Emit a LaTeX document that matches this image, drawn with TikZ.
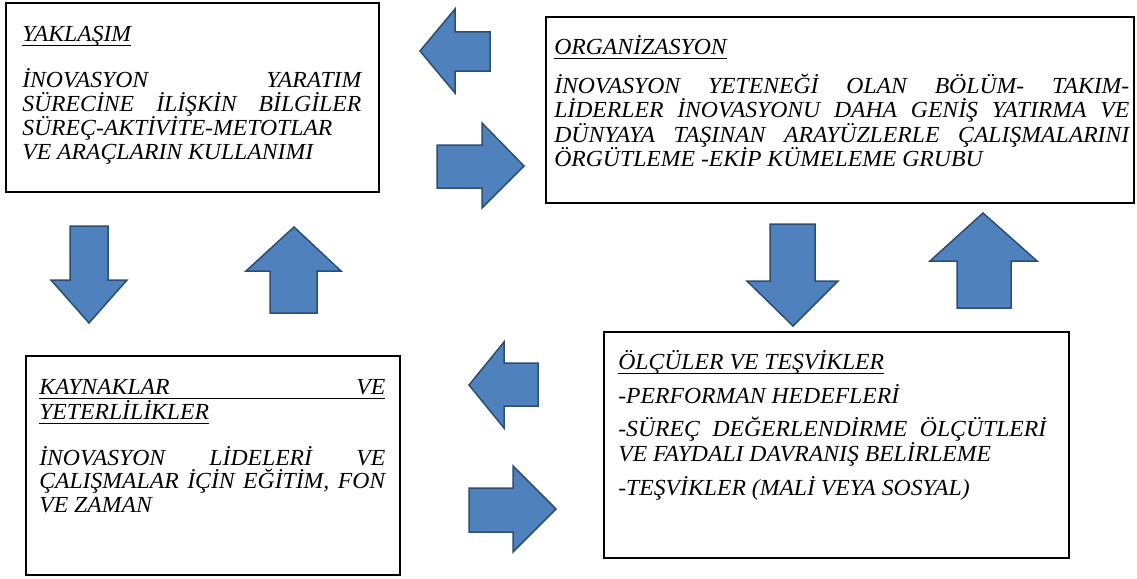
\documentclass[tikz,border=0pt]{standalone}
\usepackage{fontspec}
\setmainfont{Liberation Serif}[FakeStretch=1.03]
\setlength{\parindent}{0pt}
\setlength{\lineskiplimit}{-100pt}
\tolerance=10000
\hbadness=10000
\hyphenpenalty=10000
\exhyphenpenalty=10000
\newcommand{\ulword}[1]{\leavevmode\setbox0=\hbox{#1}\rlap{\rule[-5pt]{\wd0}{1.2pt}}\box0}
\definecolor{arrowfill}{HTML}{4F81BD}
\definecolor{arrowedge}{HTML}{2C4D75}
\tikzset{panel/.style = {shape = rectangle, draw, line width = 1.8pt, inner sep = 0pt}}
\tikzset{paneltext/.style = {anchor = base west, inner sep = 0pt, align = justify, font = \fontsize{23pt}{23.4pt}\selectfont\itshape}}
\tikzset{blockarrow/.style = {fill = arrowfill, draw = arrowedge, line width = 1.5pt, line join = miter}}

\begin{document}
\begin{tikzpicture}[x=1pt, y=-1pt]
	\useasboundingbox (0,0) rectangle (1137,578);

	\node[panel, minimum width = 373, minimum height = 189] (yaklasim) at (192.5, 97.5) {};
	\node[panel, minimum width = 588, minimum height = 186] (organizasyon) at (840, 110) {};
	\node[panel, minimum width = 374, minimum height = 219] (kaynak) at (213, 465.5) {};
	\node[panel, minimum width = 465, minimum height = 226] (olcu) at (836.5, 445) {};

	\node[paneltext, text width = 339] (yaklasimtext) at ([shift={(17,39)}]yaklasim.north west)
		{\ulword{YAKLAŞIM}\par\vspace{21.6pt}
		İNOVASYON YARATIM\linebreak SÜRECİNE İLİŞKİN BİLGİLER\linebreak
		SÜREÇ-AKTİVİTE-METOTLAR\linebreak VE ARAÇLARIN KULLANIMI\par};
	\node[paneltext, text width = 575] (organizasyontext) at ([shift={(9,38)}]organizasyon.north west)
		{\ulword{ORGANİZASYON}\par\vspace{14.3pt}
		İNOVASYON YETENEĞİ OLAN BÖLÜM- TAKIM-\linebreak LİDERLER İNOVASYONU DAHA GENİŞ YATIRMA VE\linebreak
		DÜNYAYA TAŞINAN ARAYÜZLERLE ÇALIŞMALARINI\linebreak ÖRGÜTLEME -EKİP KÜMELEME GRUBU\par};
	\node[paneltext, text width = 346] (kaynaktext) at ([shift={(14,39)}]kaynak.north west)
		{\ulword{\hbox to \hsize{KAYNAKLAR\hfill VE}}\par \ulword{YETERLİLİKLER}\par\vspace{21.2pt}
		İNOVASYON LİDELERİ VE\linebreak ÇALIŞMALAR İÇİN EĞİTİM, FON\linebreak VE ZAMAN\par};
	\node[paneltext, text width = 428] (olcutext) at ([shift={(15,38)}]olcu.north west)
		{\ulword{ÖLÇÜLER VE TEŞVİKLER}\par\vspace{9.5pt}
		-PERFORMAN HEDEFLERİ\par\vspace{9.5pt}
		-SÜREÇ DEĞERLENDİRME ÖLÇÜTLERİ\linebreak VE FAYDALI DAVRANIŞ BELİRLEME\par\vspace{9pt}
		-TEŞVİKLER (MALİ VEYA SOSYAL)\par};

	\draw[blockarrow] (420,51) -- (455,9) -- (455,32) -- (490,32) -- (490,71) -- (455,71) -- (455,93) -- cycle;
	\draw[blockarrow] (437,145) -- (482,145) -- (482,123) -- (524,166) -- (482,208) -- (482,188) -- (437,188) -- cycle;
	\draw[blockarrow] (70,226) -- (108,226) -- (108,280) -- (127,280) -- (89,323) -- (51,280) -- (70,280) -- cycle;
	\draw[blockarrow] (294,227) -- (341,271) -- (317,271) -- (317,313) -- (270,313) -- (270,271) -- (246,271) -- cycle;
	\draw[blockarrow] (770,224) -- (815,224) -- (815,281) -- (838,281) -- (793,326) -- (747,281) -- (770,281) -- cycle;
	\draw[blockarrow] (983,213) -- (1037,261) -- (1011,261) -- (1011,308) -- (957,308) -- (957,261) -- (930,261) -- cycle;
	\draw[blockarrow] (469,385) -- (504,342) -- (504,363) -- (538,363) -- (538,406) -- (504,406) -- (504,428) -- cycle;
	\draw[blockarrow] (469,488) -- (513,488) -- (513,466) -- (556,509) -- (513,552) -- (513,532) -- (469,532) -- cycle;
\end{tikzpicture}
\end{document}
